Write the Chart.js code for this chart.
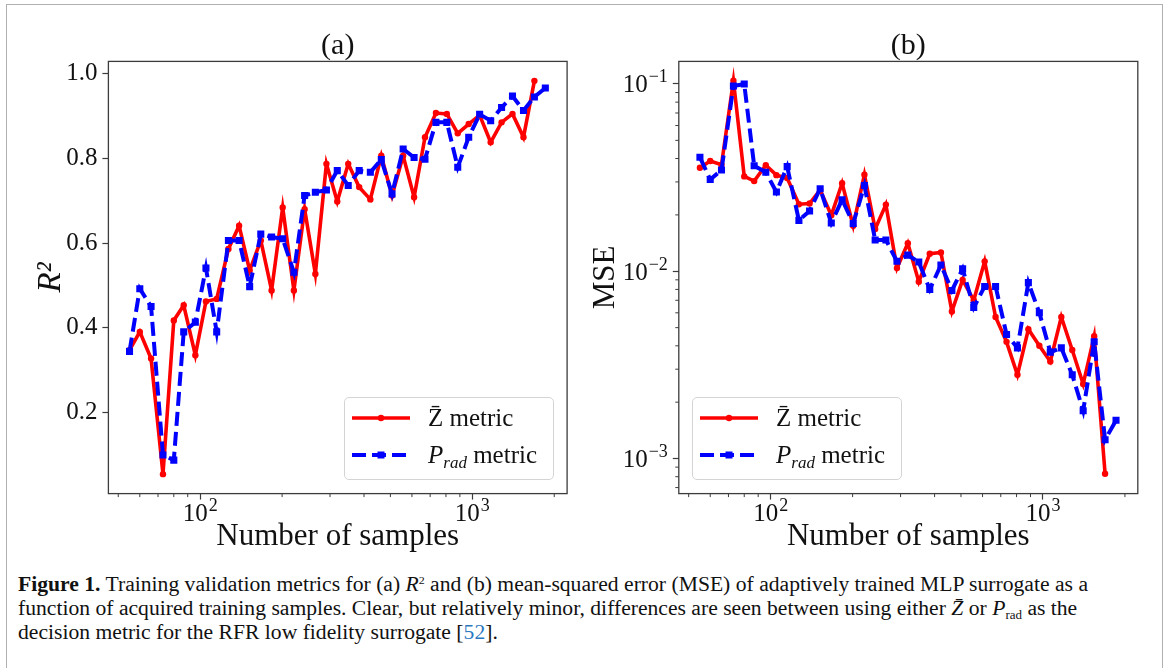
<!DOCTYPE html>
<html>
<head>
<meta charset="utf-8">
<script src="https://cdn.jsdelivr.net/npm/chart.js@4.4.1/dist/chart.umd.min.js"></script>
<style>
body{margin:0;background:#fff;width:1167px;height:668px;overflow:hidden;position:relative;font-family:"Liberation Serif",serif;color:#111}
#frame{position:absolute;left:6px;top:4px;width:1155px;height:760px;border:1px solid #b0b0b0}
canvas{position:absolute}
#ca{left:20px;top:10px}
#cb{left:586px;top:10px}
.legend{position:absolute;top:397px;width:208px;height:81px;border:1px solid #d4d4d4;border-radius:5px;background:rgba(255,255,255,.85);font-size:25px}
.legend .key{position:absolute;left:7px;width:58px;height:20px}
.legend .txt{position:absolute;left:83px;height:30px;line-height:30px;white-space:nowrap}
.legend sub{font-size:17px;vertical-align:-5px;line-height:0}
.cl{position:absolute;left:18px;white-space:nowrap;font-size:18.5px;line-height:24px;transform-origin:0 0}
.cl sup{font-size:11px;vertical-align:7px;line-height:0}
.cl sub{font-size:12px;vertical-align:-4px;line-height:0}
.ref{color:#2a78c0}
</style>
</head>
<body>
<div id="frame"></div>
<canvas id="ca" width="560" height="545"></canvas>
<canvas id="cb" width="565" height="545"></canvas>

<div class="legend" style="left:344px">
  <svg class="key" style="top:10px"><line x1="0" y1="10" x2="58" y2="10" stroke="#ff0000" stroke-width="3.6"/><circle cx="29" cy="10" r="3.2" fill="#ff0000"/></svg>
  <div class="txt" style="top:5px">Z&#772; metric</div>
  <svg class="key" style="top:47px"><line x1="0" y1="10" x2="58" y2="10" stroke="#0000ff" stroke-width="4" stroke-dasharray="14 6"/><rect x="25.5" y="6.5" width="7" height="7" fill="#0000ff"/></svg>
  <div class="txt" style="top:42px"><i>P</i><sub><i>rad</i></sub> metric</div>
</div>
<div class="legend" style="left:692px">
  <svg class="key" style="top:10px"><line x1="0" y1="10" x2="58" y2="10" stroke="#ff0000" stroke-width="3.6"/><circle cx="29" cy="10" r="3.2" fill="#ff0000"/></svg>
  <div class="txt" style="top:5px">Z&#772; metric</div>
  <svg class="key" style="top:47px"><line x1="0" y1="10" x2="58" y2="10" stroke="#0000ff" stroke-width="4" stroke-dasharray="14 6"/><rect x="25.5" y="6.5" width="7" height="7" fill="#0000ff"/></svg>
  <div class="txt" style="top:42px"><i>P</i><sub><i>rad</i></sub> metric</div>
</div>

<div class="cl" style="top:572px"><b>Figure 1.</b> Training validation metrics for (a) <i>R</i><sup>2</sup> and (b) mean-squared error (MSE) of adaptively trained MLP surrogate as a</div>
<div class="cl" style="top:596px">function of acquired training samples. Clear, but relatively minor, differences are seen between using either <i>Z&#772;</i> or <i>P</i><sub>rad</sub> as the</div>
<div class="cl" style="top:620px">decision metric for the RFR low fidelity surrogate [<span class="ref">52</span>].</div>

<script>
// number of acquired training samples (shared by both panels)
const samples = [55, 60, 66, 73, 80, 87, 96, 105, 115, 127, 139, 152, 167, 183, 201, 221, 242, 265, 291, 319,
  350, 384, 422, 463, 507, 557, 611, 670, 735, 806, 884, 970, 1064, 1168, 1281, 1405, 1542, 1691, 1855];

// (a) R^2
const r2Z = [0.347, 0.390, 0.327, 0.054, 0.417, 0.453, 0.335, 0.462, 0.468, 0.586, 0.641, 0.535, 0.606, 0.488,
  0.684, 0.488, 0.680, 0.527, 0.787, 0.698, 0.787, 0.732, 0.703, 0.806, 0.712, 0.806, 0.708, 0.850, 0.907,
  0.905, 0.859, 0.881, 0.902, 0.838, 0.885, 0.905, 0.850, 0.983];
const r2P = [0.344, 0.492, 0.450, 0.099, 0.087, 0.390, 0.413, 0.541, 0.390, 0.606, 0.606, 0.497, 0.621, 0.614,
  0.610, 0.531, 0.712, 0.720, 0.725, 0.771, 0.736, 0.771, 0.767, 0.797, 0.716, 0.822, 0.802, 0.798, 0.885,
  0.885, 0.779, 0.850, 0.904, 0.889, 0.920, 0.947, 0.913, 0.945, 0.966];

// (b) MSE
const mseZ = [0.0357, 0.0388, 0.0371, 0.104, 0.0321, 0.0303, 0.0368, 0.0326, 0.0315, 0.0228, 0.0230, 0.0272,
  0.0199, 0.0295, 0.0175, 0.0328, 0.0168, 0.0227, 0.0104, 0.0141, 0.0088, 0.0124, 0.0126, 0.0061, 0.0090,
  0.0070, 0.0113, 0.0057, 0.0042, 0.0028, 0.0049, 0.0040, 0.0033, 0.0057, 0.0038, 0.0025, 0.0045, 0.00083];
const mseP = [0.0406, 0.0309, 0.0347, 0.0975, 0.100, 0.0366, 0.0338, 0.0265, 0.0362, 0.0187, 0.0210, 0.0276,
  0.0181, 0.0241, 0.0180, 0.0287, 0.0147, 0.0147, 0.0113, 0.0122, 0.0112, 0.0080, 0.0108, 0.0079, 0.0103,
  0.0064, 0.0083, 0.0083, 0.0046, 0.0039, 0.0087, 0.0060, 0.0037, 0.0039, 0.0028, 0.0018, 0.0042, 0.00126, 0.0016];

// tick labels (base, exponent)
const xMajor = [100, 1000];
const xMajorLabels = [['10', '2'], ['10', '3']];
const r2Ticks = [0.2, 0.4, 0.6, 0.8, 1.0];
const r2TickLabels = ['0.2', '0.4', '0.6', '0.8', '1.0'];
const mseMajor = [0.001, 0.01, 0.1];
const mseMajorLabels = [['10', '\u22123'], ['10', '\u22122'], ['10', '\u22121']];

const FONT = '"Liberation Serif", "Times New Roman", serif';
const INK = '#111';
const AXIS = '#3c3c3c';
const X_MIN = 46, X_MAX = 2230;

function pts(xs, ys){ return ys.map((y, i) => ({x: xs[i], y})); }

// 1..9 x 10^n inside [min, max]
function logTicks(min, max){
  let out = [];
  for(let e = Math.floor(Math.log10(min)); e <= Math.ceil(Math.log10(max)); e++)
    for(let d = 1; d < 10; d++){
      let v = +(d * Math.pow(10, e)).toPrecision(6);
      if(v >= min && v <= max) out.push(v);
    }
  return out;
}
function majorIndex(v, majors){
  return majors.findIndex(m => Math.abs(Math.log10(v) - Math.log10(m)) < 1e-6);
}

const tickGrid = {
  drawOnChartArea: false, tickLength: 6, tickWidth: 1.2,
  tickColor: c => (c.tick && c.tick.major) ? AXIS : 'rgba(0,0,0,0)'
};

// "10" with a raised exponent, like matplotlib's mathtext labels
function powerLabel(ctx, base, exp, x, baseline, align){
  ctx.font = '25px ' + FONT;
  const wb = ctx.measureText(base).width;
  ctx.font = '18px ' + FONT;
  const we = ctx.measureText(exp).width + 1;
  let x0 = align === 'center' ? x - (wb + we) / 2 : x - wb - we;
  ctx.textAlign = 'left';
  ctx.textBaseline = 'alphabetic';
  ctx.font = '25px ' + FONT;
  ctx.fillText(base, x0, baseline);
  ctx.font = '18px ' + FONT;
  ctx.fillText(exp, x0 + wb + 1, baseline - 10);
}

// box, panel title, minor ticks and power-of-ten labels
const panelDeco = {
  id: 'panelDeco',
  afterDraw(chart, args, opts){
    const {ctx, chartArea: a, scales} = chart;
    ctx.save();
    ctx.strokeStyle = AXIS;
    ctx.lineWidth = 1;
    ['x', 'y'].forEach(k => {
      const s = scales[k];
      s.ticks.forEach(t => {
        if(t.major) return;
        const p = s.getPixelForValue(t.value);
        ctx.beginPath();
        if(k === 'x'){ ctx.moveTo(p, a.bottom); ctx.lineTo(p, a.bottom + 3.5); }
        else { ctx.moveTo(a.left, p); ctx.lineTo(a.left - 3.5, p); }
        ctx.stroke();
      });
    });
    ctx.lineWidth = 1.3;
    ctx.strokeRect(a.left, a.top, a.right - a.left, a.bottom - a.top);
    ctx.fillStyle = INK;

    xMajor.forEach((v, i) => {
      powerLabel(ctx, xMajorLabels[i][0], xMajorLabels[i][1], scales.x.getPixelForValue(v), a.bottom + 27, 'center');
    });
    if(opts.logY){
      mseMajor.forEach((v, i) => {
        powerLabel(ctx, mseMajorLabels[i][0], mseMajorLabels[i][1], a.left - 11, scales.y.getPixelForValue(v) + 8.5, 'right');
      });
    }

    ctx.font = '30px ' + FONT;
    ctx.textAlign = 'center';
    ctx.textBaseline = 'middle';
    ctx.fillText(opts.text, (a.left + a.right) / 2, a.top - 15);
    ctx.restore();
  }
};

function xAxis(){
  return {
    type: 'logarithmic', min: X_MIN, max: X_MAX, bounds: 'data',
    afterBuildTicks: s => { s.ticks = logTicks(X_MIN, X_MAX).map(v => ({value: v, major: majorIndex(v, xMajor) >= 0})); },
    afterFit: s => { s.height = 61.4; s.paddingLeft = 0; s.paddingRight = 0; },
    ticks: {autoSkip: false, maxRotation: 0, padding: 3, color: INK, font: {family: FONT, size: 25}, callback: () => ''},
    grid: tickGrid,
    border: {display: false},
    title: {display: true, text: 'Number of samples', color: INK, font: {family: FONT, size: 31}, padding: {top: 0, bottom: 0}}
  };
}

function series(z, p){
  return [
    {label: 'Z metric', data: pts(samples, z), borderColor: '#ff0000', backgroundColor: '#ff0000',
     borderWidth: 3.6, pointRadius: 3.2, pointHoverRadius: 3.2, pointBorderWidth: 0, pointStyle: 'circle', order: 1},
    {label: 'P_rad metric', data: pts(samples, p), borderColor: '#0000ff', backgroundColor: '#0000ff',
     borderWidth: 4, borderDash: [14, 6], pointRadius: 5, pointHoverRadius: 5, pointBorderWidth: 0, pointStyle: 'rect', order: 0}
  ];
}

const common = {
  responsive: false, animation: false,
  plugins: {legend: {display: false}, tooltip: {enabled: false}}
};

new Chart(document.getElementById('ca'), {
  type: 'line',
  data: {datasets: series(r2Z, r2P)},
  options: {
    ...common,
    layout: {padding: {top: 51.4, right: 12.9, left: 0, bottom: 0}},
    plugins: {...common.plugins, panelDeco: {text: '(a)', logY: false}},
    scales: {
      x: xAxis(),
      y: {
        type: 'linear', min: 0.008, max: 1.029,
        afterBuildTicks: s => { s.ticks = r2Ticks.map(v => ({value: v, major: true})); },
        afterFit: s => { s.width = 88.4; s.paddingTop = 0; s.paddingBottom = 0; },
        ticks: {padding: 5, color: INK, font: {family: FONT, size: 25}, callback: (v, i) => r2TickLabels[i]},
        grid: tickGrid,
        border: {display: false},
        title: {display: true, text: 'R²', color: INK, font: {family: FONT, size: 33, style: 'italic'}, padding: {top: 12, bottom: 0}}
      }
    }
  },
  plugins: [panelDeco]
});

new Chart(document.getElementById('cb'), {
  type: 'line',
  data: {datasets: series(mseZ, mseP)},
  options: {
    ...common,
    layout: {padding: {top: 51.4, right: 13.2, left: 0, bottom: 0}},
    plugins: {...common.plugins, panelDeco: {text: '(b)', logY: true}},
    scales: {
      x: xAxis(),
      y: {
        type: 'logarithmic', min: 0.00065, max: 0.132, bounds: 'data',
        afterBuildTicks: s => { s.ticks = logTicks(0.00065, 0.132).map(v => ({value: v, major: majorIndex(v, mseMajor) >= 0})); },
        afterFit: s => { s.width = 92.8; s.paddingTop = 0; s.paddingBottom = 0; },
        ticks: {autoSkip: false, padding: 5, color: INK, font: {family: FONT, size: 25}, callback: () => ''},
        grid: tickGrid,
        border: {display: false},
        title: {display: true, text: 'MSE', color: INK, font: {family: FONT, size: 31}, padding: {top: 1.4, bottom: 0}}
      }
    }
  },
  plugins: [panelDeco]
});

// stretch the caption so line 1 spans the same width as in the figure
const lines = document.querySelectorAll('.cl');
let w = lines[0].getBoundingClientRect().width;
let fs = Math.max(17, Math.min(20, 18.5 * 1070 / w));
lines.forEach(l => l.style.fontSize = fs + 'px');
w = lines[0].getBoundingClientRect().width;
lines.forEach(l => l.style.transform = 'scaleX(' + (1070 / w) + ')');
</script>
</body>
</html>
